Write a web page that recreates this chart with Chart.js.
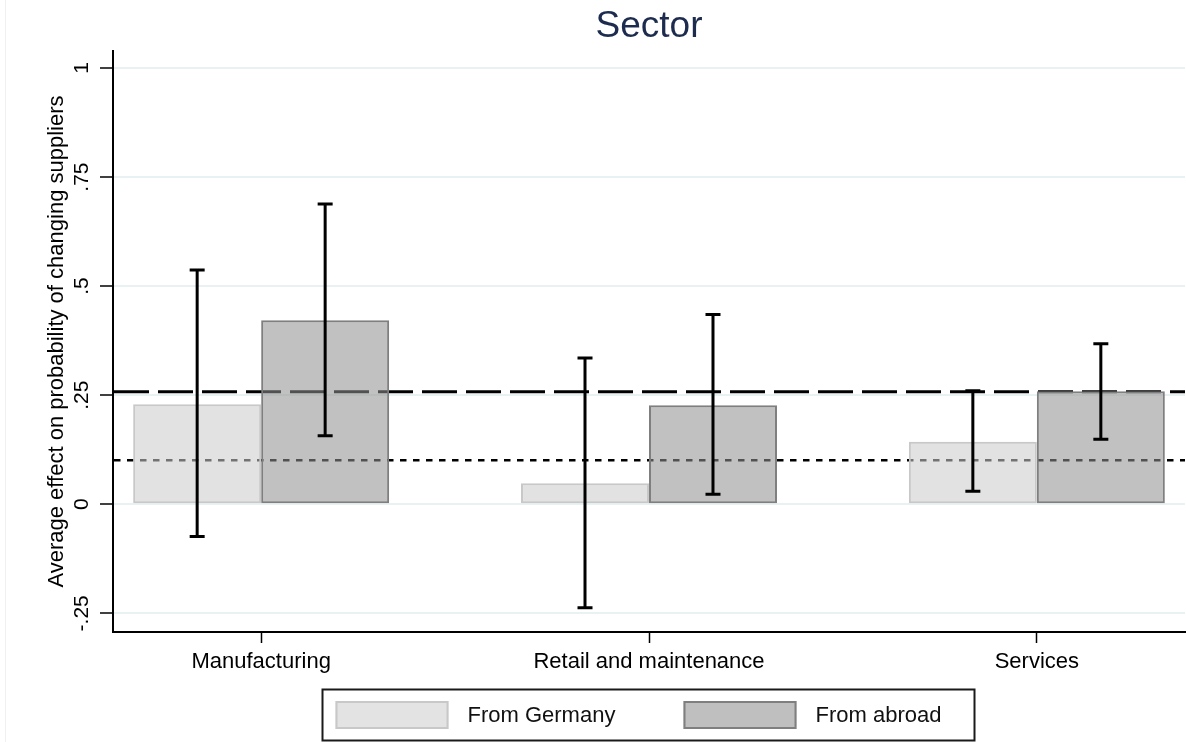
<!DOCTYPE html>
<html>
<head>
<meta charset="utf-8">
<script src="https://cdn.jsdelivr.net/npm/chart.js@4.4.1/dist/chart.umd.min.js"></script>
<style>
  html, body { margin: 0; padding: 0; background: #ffffff; }
  #wrap { width: 1186px; height: 742px; }
</style>
</head>
<body>
<div id="wrap"><canvas id="c" width="1186" height="742"></canvas></div>
<script>
// Sectors and their positions on the x axis
const sectors = ['Manufacturing', 'Retail and maintenance', 'Services'];
const sectorPos = [1, 2, 3];

// Average effects with confidence intervals
const germanyEffect = [0.229, 0.048, 0.143];
const germanyLow    = [-0.074, -0.237, 0.030];
const germanyHigh   = [0.537, 0.335, 0.260];

const abroadEffect  = [0.422, 0.227, 0.259];
const abroadLow     = [0.157, 0.023, 0.149];
const abroadHigh    = [0.688, 0.435, 0.368];

// Horizontal reference lines
const dashedRef = 0.258;
const dottedRef = 0.101;

// Y axis ticks
const yTickValues = [-0.25, 0, 0.25, 0.5, 0.75, 1];
const yTickLabels = ['-.25', '0', '.25', '.5', '.75', '1'];

const FONT = "'Liberation Sans', Arial, Helvetica, sans-serif";
Chart.defaults.font.family = FONT;
Chart.defaults.color = '#000000';

const seriesStyle = [
  { fill: 'rgba(203,203,203,0.56)', solid: '#e3e3e3', border: '#c8c8c8' },
  { fill: 'rgba(144,144,144,0.56)', solid: '#bfbfbf', border: '#7f7f7f' }
];

const whiteBackground = {
  id: 'whiteBackground',
  beforeDraw(chart) {
    const ctx = chart.ctx;
    ctx.save();
    ctx.fillStyle = '#ffffff';
    ctx.fillRect(0, 0, chart.width, chart.height);
    ctx.strokeStyle = '#f0f0f0';
    ctx.lineWidth = 1;
    ctx.beginPath();
    ctx.moveTo(5.5, 0);
    ctx.lineTo(5.5, chart.height);
    ctx.stroke();
    ctx.restore();
  }
};

const referenceLines = {
  id: 'referenceLines',
  beforeDatasetsDraw(chart) {
    const { ctx, chartArea, scales } = chart;
    const draw = (value, dash, width) => {
      const y = scales.y.getPixelForValue(value);
      ctx.save();
      ctx.strokeStyle = '#000000';
      ctx.lineWidth = width;
      ctx.setLineDash(dash);
      ctx.beginPath();
      ctx.moveTo(chartArea.left + 1, y);
      ctx.lineTo(chartArea.right, y);
      ctx.stroke();
      ctx.restore();
    };
    draw(dashedRef, [35, 9], 3);
    draw(dottedRef, [6.5, 6.5], 2.5);
  }
};

const errorBars = {
  id: 'errorBars',
  afterDatasetsDraw(chart) {
    const { ctx, scales } = chart;
    const cap = 7.5;
    chart.data.datasets.forEach((ds, di) => {
      const meta = chart.getDatasetMeta(di);
      meta.data.forEach((bar, i) => {
        const x = bar.x;
        const yLo = scales.y.getPixelForValue(ds.ciLow[i]);
        const yHi = scales.y.getPixelForValue(ds.ciHigh[i]);
        ctx.save();
        ctx.strokeStyle = '#000000';
        ctx.lineWidth = 3;
        ctx.lineCap = 'butt';
        ctx.beginPath();
        ctx.moveTo(x, yLo);
        ctx.lineTo(x, yHi);
        ctx.moveTo(x - cap, yLo);
        ctx.lineTo(x + cap, yLo);
        ctx.moveTo(x - cap, yHi);
        ctx.lineTo(x + cap, yHi);
        ctx.stroke();
        ctx.restore();
      });
    });
  }
};

const boxedLegend = {
  id: 'boxedLegend',
  afterDraw(chart) {
    const { ctx, chartArea } = chart;
    const cx = (chartArea.left + chartArea.right) / 2;
    ctx.save();
    ctx.strokeStyle = '#1a1a1a';
    ctx.lineWidth = 2;
    ctx.strokeRect(cx - 326.5, 689.5, 652, 51);
    const items = [
      { sx: cx - 313.5, tx: cx - 181.5 },
      { sx: cx + 34.5,  tx: cx + 166.5 }
    ];
    chart.data.datasets.forEach((ds, i) => {
      const it = items[i];
      ctx.fillStyle = seriesStyle[i].solid;
      ctx.fillRect(it.sx, 701, 113, 28);
      ctx.strokeStyle = seriesStyle[i].border;
      ctx.lineWidth = 2;
      ctx.strokeRect(it.sx + 1, 702, 111, 26);
      ctx.fillStyle = '#111111';
      ctx.font = '22px ' + FONT;
      ctx.textAlign = 'left';
      ctx.textBaseline = 'middle';
      ctx.fillText(ds.label, it.tx, 716);
    });
    ctx.restore();
  }
};

new Chart(document.getElementById('c'), {
  type: 'bar',
  data: {
    datasets: [
      {
        label: 'From Germany',
        data: sectorPos.map((x, i) => ({ x, y: germanyEffect[i] })),
        ciLow: germanyLow,
        ciHigh: germanyHigh,
        backgroundColor: seriesStyle[0].fill,
        borderColor: seriesStyle[0].border,
        borderWidth: 2,
        borderSkipped: false
      },
      {
        label: 'From abroad',
        data: sectorPos.map((x, i) => ({ x, y: abroadEffect[i] })),
        ciLow: abroadLow,
        ciHigh: abroadHigh,
        backgroundColor: seriesStyle[1].fill,
        borderColor: seriesStyle[1].border,
        borderWidth: 2,
        borderSkipped: false
      }
    ]
  },
  options: {
    responsive: false,
    animation: false,
    devicePixelRatio: 1,
    categoryPercentage: 0.66,
    barPercentage: 1,
    layout: { padding: { left: 0, right: 1, top: 0, bottom: 0 } },
    plugins: {
      legend: { display: false },
      tooltip: { enabled: false },
      title: {
        display: true,
        text: 'Sector',
        fullSize: false,
        color: '#1c2b4e',
        font: { size: 37, weight: 'normal' },
        padding: { top: 4.5, bottom: 2.1 }
      }
    },
    scales: {
      x: {
        type: 'linear',
        offset: false,
        min: 0.618,
        max: 3.382,
        afterBuildTicks: s => { s.ticks = sectorPos.map(v => ({ value: v })); },
        afterFit: s => { s.height = 110; },
        ticks: {
          callback: v => sectors[sectorPos.indexOf(v)],
          font: { size: 22 },
          color: '#000000',
          padding: 6,
          maxRotation: 0,
          autoSkip: false
        },
        grid: {
          display: true,
          offset: false,
          drawOnChartArea: false,
          drawTicks: true,
          tickLength: 11,
          tickColor: '#000000',
          tickWidth: 1.5
        },
        border: { display: true, color: '#000000', width: 2 }
      },
      y: {
        min: -0.2928,
        max: 1.0389,
        afterBuildTicks: s => { s.ticks = yTickValues.map(v => ({ value: v })); },
        afterFit: s => { s.width = 113; },
        ticks: {
          callback: v => yTickLabels[yTickValues.indexOf(v)],
          font: { size: 21 },
          color: '#000000',
          minRotation: 90,
          maxRotation: 90,
          crossAlign: 'center',
          padding: 0
        },
        grid: {
          color: '#e9f1f3',
          lineWidth: 2,
          drawTicks: true,
          tickLength: 13,
          tickColor: '#000000',
          tickWidth: 1.5
        },
        border: { display: true, color: '#000000', width: 2 },
        title: {
          display: true,
          text: 'Average effect on probability of changing suppliers',
          font: { size: 22 },
          color: '#000000',
          padding: { top: 44, bottom: 0 }
        }
      }
    }
  },
  plugins: [whiteBackground, referenceLines, errorBars, boxedLegend]
});
</script>
</body>
</html>
